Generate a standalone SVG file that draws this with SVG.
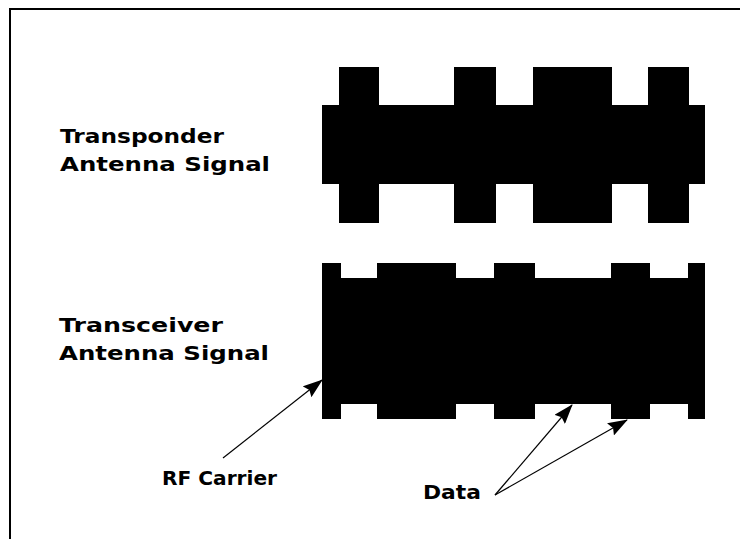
<svg xmlns="http://www.w3.org/2000/svg" width="740" height="539" viewBox="0 0 740 539">
  <defs>
    <marker id="ah" markerUnits="userSpaceOnUse" viewBox="0 0 20 14" refX="19" refY="7" markerWidth="20" markerHeight="14" orient="auto">
      <path d="M0,0 L20,7 L0,14 L3,7 z" fill="#000"/>
    </marker>
    <style>
      .lbl { font-family: "DejaVu Sans", "Liberation Sans", sans-serif; font-weight: bold; font-size: 20px; fill: #000; }
      .sig { fill: #000; stroke: none; }
      .con { stroke: #000; stroke-width: 1.2; fill: none; marker-end: url(#ah); }
    </style>
  </defs>
  <rect width="740" height="539" fill="#fff"/>
  <g id="frame" stroke="#000" stroke-width="2" fill="none">
    <path d="M10,539 L10,9 L740,9"/>
  </g>
  <g id="transponder-signal">
    <path class="sig" d="M322,105 H339 V67 H379 V105 H454 V67 H496 V105 H533 V67 H612 V105 H648 V67 H689 V105 H705 V184 H689 V223 H648 V184 H612 V223 H533 V184 H496 V223 H454 V184 H379 V223 H339 V184 H322 Z"/>
  </g>
  <g id="transceiver-signal">
    <path class="sig" d="M322,263 H341 V278 H377 V263 H456 V278 H494 V263 H535 V278 H611 V263 H650 V278 H688 V263 H705 V419 H688 V404 H650 V419 H611 V404 H535 V419 H494 V404 H456 V419 H377 V404 H341 V419 H322 Z"/>
  </g>
  <g id="label-transponder">
    <text class="lbl" x="60" y="143" textLength="164" lengthAdjust="spacingAndGlyphs">Transponder</text>
    <text class="lbl" x="60" y="171" textLength="210" lengthAdjust="spacingAndGlyphs">Antenna Signal</text>
  </g>
  <g id="label-transceiver">
    <text class="lbl" x="59" y="332" textLength="164" lengthAdjust="spacingAndGlyphs">Transceiver</text>
    <text class="lbl" x="59" y="360" textLength="210" lengthAdjust="spacingAndGlyphs">Antenna Signal</text>
  </g>
  <g id="label-rf-carrier">
    <text class="lbl" x="162" y="485" textLength="115" lengthAdjust="spacingAndGlyphs">RF Carrier</text>
  </g>
  <g id="label-data">
    <text class="lbl" x="423" y="499" textLength="58" lengthAdjust="spacingAndGlyphs">Data</text>
  </g>
  <g id="connectors">
    <line class="con" x1="223" y1="458" x2="322" y2="380"/>
    <line class="con" x1="495" y1="495" x2="572" y2="405"/>
    <line class="con" x1="495" y1="495" x2="627" y2="420"/>
  </g>
</svg>
